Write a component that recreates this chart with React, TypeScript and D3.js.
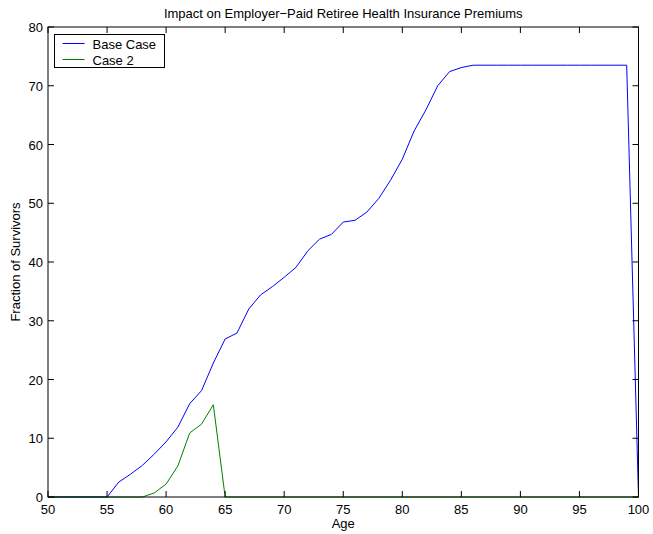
import React, { useRef, useEffect } from 'react';
import * as d3 from 'd3';

const ages = d3.range(50, 101);

// fraction of survivors, base case (ages 50..100)
const baseCase = [
  0, 0, 0, 0, 0, 0, 2.55, 3.9, 5.4, 7.3,
  9.4, 11.9, 15.9, 18.1, 22.8, 26.9, 27.9, 32.0, 34.4, 35.8,
  37.4, 39.1, 41.9, 43.9, 44.7, 46.8, 47.1, 48.5, 50.8, 53.9,
  57.5, 62.3, 65.9, 70.0, 72.4, 73.1, 73.5, 73.5, 73.5, 73.5,
  73.5, 73.5, 73.5, 73.5, 73.5, 73.5, 73.5, 73.5, 73.5, 73.5,
  0,
];

// case 2 (ages 50..100)
const case2 = [
  0, 0, 0, 0, 0, 0, 0, 0, 0, 0.7,
  2.2, 5.3, 10.9, 12.4, 15.7, 0, 0, 0, 0, 0,
  0, 0, 0, 0, 0, 0, 0, 0, 0, 0,
  0, 0, 0, 0, 0, 0, 0, 0, 0, 0,
  0, 0, 0, 0, 0, 0, 0, 0, 0, 0,
  0,
];

const xTicks = [50, 55, 60, 65, 70, 75, 80, 85, 90, 95, 100];
const yTicks = [0, 10, 20, 30, 40, 50, 60, 70, 80];

const seriesNames = ['Base Case', 'Case 2'];
const seriesColors = ['#0000ff', '#008000'];

const App = () => {
  const ref = useRef<SVGSVGElement>(null);

  useEffect(() => {
    const width = 653;
    const height = 534;
    const margin = { top: 27, right: 14, bottom: 37, left: 48 };

    const svg = d3.select(ref.current);
    svg.selectAll('*').remove();

    const font = 'Liberation Sans, Arial, Helvetica, sans-serif';
    const fs = '13px';

    const x = d3.scaleLinear()
      .domain([50, 100])
      .range([margin.left, width - margin.right - 0.5]);

    const y = d3.scaleLinear()
      .domain([0, 80])
      .range([height - margin.bottom, margin.top]);

    const x0 = x(50), x1 = x(100), y0 = y(0), y1 = y(80);

    // background
    svg.append('rect').attr('width', width).attr('height', height).attr('fill', '#fff');

    // lines
    const line = d3.line<number>()
      .x((d, i) => x(ages[i]))
      .y(d => y(d));

    [baseCase, case2].forEach((s, i) => {
      svg.append('path')
        .datum(s)
        .attr('d', line)
        .attr('fill', 'none')
        .attr('stroke', seriesColors[i])
        .attr('stroke-width', 1);
    });

    // box
    svg.append('rect')
      .attr('x', x0).attr('y', y1)
      .attr('width', x1 - x0).attr('height', y0 - y1)
      .attr('fill', 'none').attr('stroke', '#000').attr('stroke-width', 1);

    const tickLen = 6;
    // x ticks (bottom and top, pointing inward)
    xTicks.forEach(t => {
      svg.append('line').attr('x1', x(t)).attr('x2', x(t))
        .attr('y1', y0).attr('y2', y0 - tickLen).attr('stroke', '#000');
      svg.append('line').attr('x1', x(t)).attr('x2', x(t))
        .attr('y1', y1).attr('y2', y1 + tickLen).attr('stroke', '#000');
      svg.append('text')
        .attr('x', x(t)).attr('y', y0 + 17)
        .attr('text-anchor', 'middle')
        .style('font-family', font).style('font-size', fs)
        .text(t);
    });

    // y ticks (left and right)
    yTicks.forEach(t => {
      svg.append('line').attr('x1', x0).attr('x2', x0 + tickLen)
        .attr('y1', y(t)).attr('y2', y(t)).attr('stroke', '#000');
      svg.append('line').attr('x1', x1).attr('x2', x1 - tickLen)
        .attr('y1', y(t)).attr('y2', y(t)).attr('stroke', '#000');
      svg.append('text')
        .attr('x', x0 - 5).attr('y', y(t) + 5)
        .attr('text-anchor', 'end')
        .style('font-family', font).style('font-size', fs)
        .text(t);
    });

    // title
    svg.append('text')
      .attr('x', (x0 + x1) / 2).attr('y', 18)
      .attr('text-anchor', 'middle')
      .style('font-family', font).style('font-size', fs)
      .text('Impact on Employer\u2212Paid Retiree Health Insurance Premiums');

    // axis labels
    svg.append('text')
      .attr('x', (x0 + x1) / 2).attr('y', y0 + 31)
      .attr('text-anchor', 'middle')
      .style('font-family', font).style('font-size', fs)
      .text('Age');

    svg.append('text')
      .attr('transform', `translate(20,${(y0 + y1) / 2}) rotate(-90)`)
      .attr('text-anchor', 'middle')
      .style('font-family', font).style('font-size', fs)
      .text('Fraction of Survivors');

    // legend
    const lg = svg.append('g').attr('transform', 'translate(54.5,34.5)');
    lg.append('rect').attr('width', 110).attr('height', 33)
      .attr('fill', '#fff').attr('stroke', '#000');
    seriesNames.forEach((n, i) => {
      const ly = 9 + i * 16;
      lg.append('line').attr('x1', 8).attr('x2', 30)
        .attr('y1', ly).attr('y2', ly)
        .style('stroke', seriesColors[i]).style('stroke-width', 1);
      lg.append('text').attr('x', 38).attr('y', ly + 5)
        .style('font-family', font).style('font-size', fs)
        .text(n);
    });
  }, []);

  return (
    <svg ref={ref} width={653} height={534}
      style={{ position: 'absolute', left: 0, top: 0 }} />
  );
};

export default App;
